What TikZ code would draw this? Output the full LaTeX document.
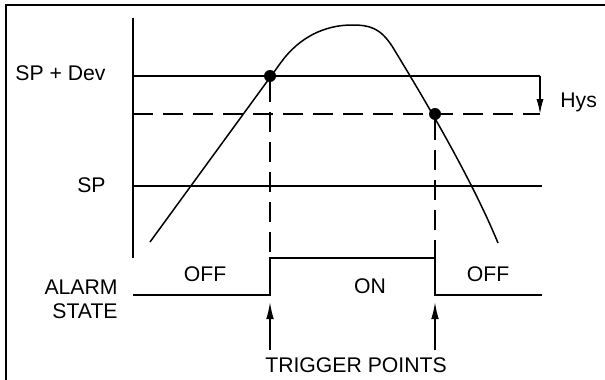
\documentclass[tikz,border=0pt]{standalone}
\usepackage{fontspec}
\setmainfont{Liberation Sans}
\usetikzlibrary{arrows.meta,positioning}

\begin{document}
\begin{tikzpicture}[
      x=0.5pt, y=-0.5pt,
      every node/.style={font=\fontsize{10.6}{12}\selectfont, inner sep=0pt},
      level/.style={line width=0.75pt},
      dashline/.style={line width=0.75pt, dash pattern=on 10pt off 5pt},
      dot/.style={circle, fill=black, minimum size=6pt, inner sep=0pt},
      pointer/.style={-{Latex[length=8.5pt,width=3.8pt]}, line width=0.75pt},
      frame/.style={line width=1pt}
    ]
    \useasboundingbox (0,0) rectangle (605,380);
    % frame and axis
    \draw[frame] (605,5) -- (6,5) -- (6,380);
    \coordinate (axtop) at (133,18);
    \coordinate (axbot) at (133,258);
    \draw[level] (axtop) -- (axbot);
    % levels
    \coordinate (devL) at (133,76);
    \coordinate (devR) at (540,76);
    \coordinate (hysL) at (133,114);
    \coordinate (hysR) at (540,114);
    \coordinate (spL) at (133,186);
    \coordinate (spR) at (542,186);
    \draw[level] (devL) -- (devR);
    \draw[dashline] (hysL) -- (hysR);
    \draw[level] (spL) -- (spR);
    \draw[-{Latex[length=7.5pt,width=3.6pt]}, line width=0.75pt] (devR) -- (hysR);
    % process value
    \draw[level] (150,242) -- (282,61) .. controls (300,37) and (325,25) .. (352,25)
      .. controls (370,25) and (380,28) .. (392,46)
      .. controls (420,92) and (470,175) .. (498,243);
    \node[dot] (trigon) at (270,76) {};
    \node[dot] (trigoff) at (435,114) {};
    % alarm state
    \coordinate (offL) at (133,295);
    \coordinate (onlvl) at (270,258);
    \coordinate (offR) at (542,295);
    \draw[level] (offL) -- (offL -| trigon) -- (onlvl) -- (onlvl -| trigoff) -- (offR -| trigoff) -- (offR);
    \draw[dashline] (trigon) -- (onlvl);
    \draw[dashline] (trigoff) -- (onlvl -| trigoff);
    % trigger pointers
    \node[anchor=base] (trig) at (356,372) {TRIGGER POINTS};
    \coordinate (tailA) at (270,350);
    \coordinate (tailB) at (435,350);
    \draw[pointer] (tailA) -- (270,302);
    \draw[pointer] (tailB) -- (435,302);
    % labels
    \node[anchor=base east] (lbldev) at (106,80) {SP + Dev};
    \node[anchor=base east] (lblsp) at (106,192) {SP};
    \node[anchor=base west] (lblhys) at (560,107) {Hys};
    \node[anchor=base] (lbloff1) at (205,281) {OFF};
    \node[anchor=base] (lblon) at (370,293) {ON};
    \node[anchor=base] (lbloff2) at (488,281) {OFF};
    \node[anchor=north east, align=right] (lblalarm) at (118,280) {ALARM\\STATE};
  \end{tikzpicture}
\end{document}
